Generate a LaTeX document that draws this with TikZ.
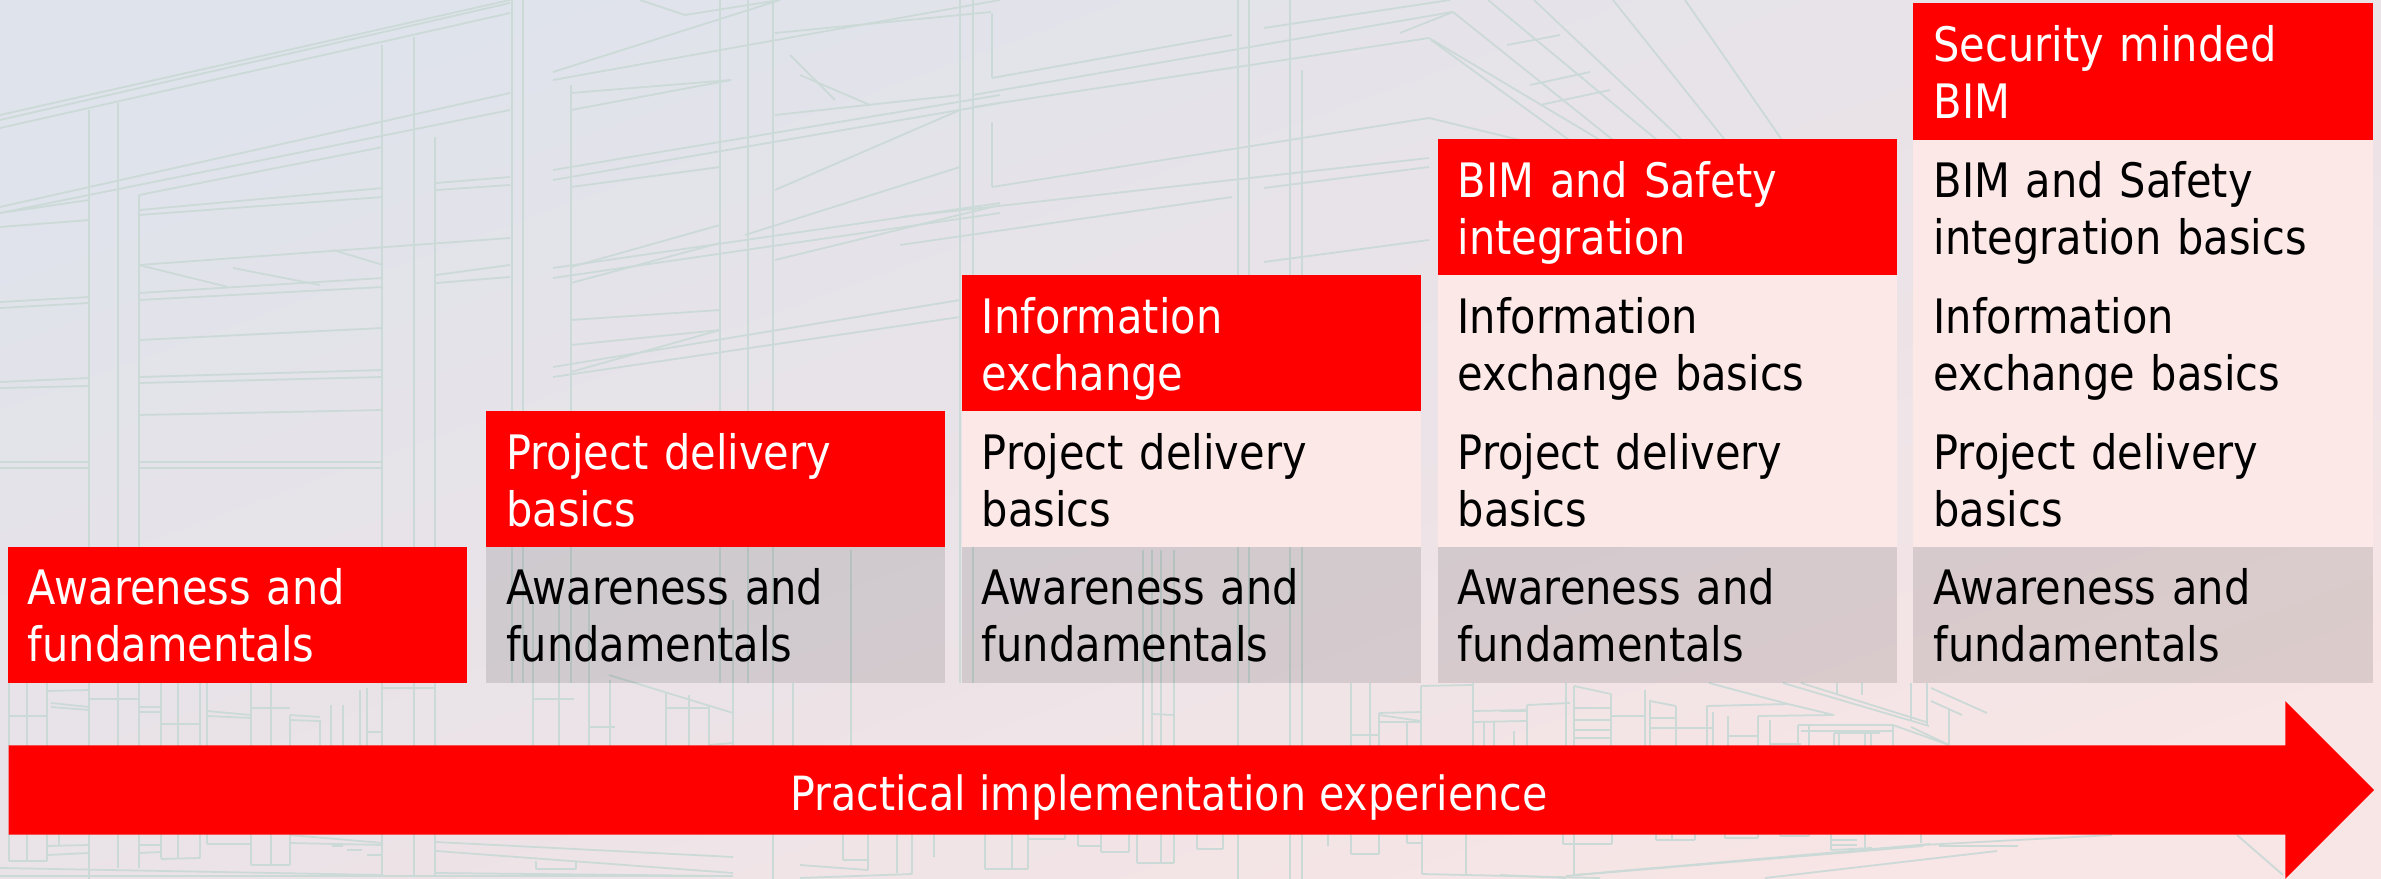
\documentclass[tikz,border=0pt]{standalone}
\usepackage{fontspec}
\setmainfont[FakeStretch=0.875]{DejaVu Sans}
\usepackage{xcolor}
\usepackage{tikz}
\usetikzlibrary{shapes,arrows}
\definecolor{bimRed}{HTML}{FF0000}
\definecolor{bimPale}{HTML}{FCE8E7}
\definecolor{bimFrame}{HTML}{CBD9D7}
\definecolor{bimCorner}{HTML}{DFE3EB}
\definecolor{bimMiddle}{HTML}{EAE3E8}
\definecolor{bimFar}{HTML}{F8E5E5}
\tikzstyle{block} = [rectangle, inner sep=0pt, text width=4.19cm, align=left,
    minimum height=1.358cm, minimum width=4.59cm, text height=0.58cm, text depth=0.78cm,
    font=\fontsize{13.5}{16.2}\selectfont]
\tikzstyle{redblock} = [block, fill=bimRed, text=white]
\tikzstyle{paleblock} = [block, fill=bimPale, text=black]
\tikzstyle{greyblock} = [block, fill=black, fill opacity=0.11, text opacity=1, text=black]
\tikzstyle{bigarrow} = [single arrow, fill=bimRed, text=white, inner sep=0pt,
    text height=0.64cm, text depth=0.24cm,
    minimum height=23.64cm, minimum width=1.76cm, single arrow head extend=0.44cm,
    font=\fontsize{13.4}{16.2}\selectfont]
\tikzstyle{frame} = [draw=bimFrame, line width=0.5pt]

\begin{document}
\begin{tikzpicture}[x=0.01cm, y=-0.01cm, node distance=4.755cm]
    \useasboundingbox (0,0) rectangle (2381,879);
    \shade [top color=bimCorner, bottom color=bimFar, middle color=bimMiddle, shading angle=20] (0,0) rectangle (2381,879);
    % Columns of the building
    \foreach \x/\ya/\yb in {89/110/879, 118/103/868, 139/195/868, 382/45/875, 414/37/875, 435/137/875,
        512/0/683, 523/0/683, 571/85/683, 720/0/683, 748/0/683, 773/0/879, 960/0/683, 973/0/683,
        1238/0/879, 1249/0/683, 1290/0/879, 1302/70/879,
        9/683/746, 27/683/746, 47/683/746, 161/683/746, 178/683/746, 200/683/746, 207/683/746, 251/683/746,
        271/683/746, 290/715/746, 320/720/746, 331/705/746, 343/705/746, 360/690/746, 367/688/746,
        533/600/746, 559/600/746, 589/600/746, 610/680/746, 666/693/746, 689/695/746, 709/705/746, 733/600/746, 793/683/746,
        851/550/746, 1143/550/746, 1152/550/746, 1161/550/746, 1174/550/746, 1351/683/746, 1370/683/746, 1379/713/746,
        1407/721/746, 1421/686/746, 1473/683/746, 1484/722/746, 1494/722/746, 1514/731/746, 1527/705/746,
        1566/683/746, 1574/686/746, 1611/694/746, 1645/690/746, 1650/700/746, 1676/706/746, 1707/706/746, 1713/712/746,
        1728/716/746, 1758/716/746, 1770/720/746, 1798/725/746, 1809/725/746, 1834/733/746, 1839/733/746, 1865/733/746,
        1871/733/746, 1893/725/746, 1911/683/720, 1927/683/726, 1949/710/745,
        9/834/861, 27/834/861, 47/834/861, 59/834/846, 161/834/858, 178/834/858, 200/834/858, 207/834/844, 251/834/865,
        271/834/865, 290/834/865, 843/834/860, 868/834/870, 897/834/873, 912/834/874, 934/834/857, 985/834/869,
        1012/834/869, 1028/834/869, 1065/834/839, 1078/834/846, 1101/834/852, 1129/834/852, 1137/834/863, 1161/834/863,
        1174/834/863, 1197/834/849, 1223/834/849, 1328/834/846, 1351/834/854, 1379/834/854, 1407/834/843, 1422/834/874,
        1466/834/876, 1563/834/844, 1574/834/875, 1612/834/844, 1656/834/840, 1672/834/840, 1695/834/840, 1725/834/838,
        1758/834/838, 1780/834/836, 1809/834/836, 1831/834/850, 1865/834/848, 1921/834/843}
        \draw [frame] (\x,\ya) -- (\x,\yb);
    % Beams and slabs
    \foreach \xa/\ya/\xb/\yb in {0/115/510/0, 0/120/510/3, 0/128/510/13, 0/207/510/93, 0/213/510/110,
        139/195/383/147, 139/210/383/188, 139/215/383/197, 436/183/510/177, 436/190/510/185,
        139/265/510/238, 139/293/383/278, 139/300/383/287, 436/275/510/265, 436/283/510/277,
        139/340/383/328, 139/377/383/370, 139/383/383/377, 139/415/383/410, 139/462/383/462, 139/468/383/468,
        0/302/89/297, 0/308/89/303, 0/382/89/378, 0/388/89/386, 0/462/89/462, 0/468/89/468,
        0/213/89/200, 0/227/89/220, 139/265/228/287, 233/268/320/285, 333/250/383/265,
        553/80/1000/0, 553/72/780/0, 553/170/1000/95, 553/180/1000/103, 553/268/1000/203, 553/278/1000/213,
        553/367/960/300, 553/377/960/317, 571/93/731/80, 571/110/731/80, 571/187/720/167, 571/267/720/225,
        571/283/720/243, 571/372/720/330, 571/320/720/310, 571/345/720/330,
        775/33/991/12, 775/115/960/95, 775/190/960/110, 745/235/960/167, 775/260/1000/205,
        973/95/1452/12, 973/107/1429/38, 992/78/1232/35, 992/187/1429/118, 900/217/1429/158, 900/245/1232/197,
        1264/262/1429/240, 1264/188/1429/167, 1264/28/1450/0, 992/13/992/78, 992/122/992/187,
        1400/33/1453/12, 1453/12/1613/140, 1431/40/1569/140, 1429/38/1600/140, 1488/0/1657/140, 1534/0/1682/140,
        1613/0/1725/140, 1685/0/1782/140, 1429/118/1520/140, 1507/45/1560/35, 1530/85/1590/72, 1540/105/1610/90,
        640/0/685/15, 685/15/780/0, 790/55/835/100, 800/75/870/105}
        \draw [frame] (\xa,\ya) -- (\xb,\yb);
    % Lower floors seen under the blocks
    \foreach \xa/\ya/\xb/\yb in {9/716/47/716, 47/691/89/690, 51/703/89/707, 51/707/89/710, 89/699/139/699, 139/707/161/707,
        139/712/161/712, 161/724/200/724, 207/711/251/715, 207/716/251/718, 251/708/290/708, 290/715/320/717, 290/720/320/721,
        383/688/436/688, 367/732/383/732, 533/699/574/699, 589/727/615/727, 609/675/733/713, 666/708/709/708, 709/745/733/743,
        1152/714/1174/715, 1351/735/1379/735, 1379/715/1421/721, 1379/722/1421/722, 1379/713/1421/712, 1421/686/1473/685,
        1473/711/1527/710, 1473/722/1527/721, 1527/705/1570/703, 1500/711/1528/711, 1574/686/1611/694, 1574/708/1611/708,
        1574/720/1611/720, 1574/730/1611/730, 1574/738/1611/738, 1611/716/1645/716, 1650/701/1676/706, 1650/718/1676/718,
        1650/728/1712/728, 1709/683/1788/704, 1707/706/1788/704, 1788/704/1834/715, 1758/716/1834/715, 1728/736/1758/736,
        1783/683/1929/726, 1801/683/1926/722, 1931/688/1987/713, 1931/701/1962/715, 1893/725/1949/745, 1911/727/1949/745,
        1798/725/1893/725, 1801/731/1893/731, 1770/744/1801/744, 1834/733/1880/733, 1837/683/1837/695, 1862/683/1862/695,
        9/861/47/861, 47/846/89/845, 47/855/89/853, 139/845/161/845, 139/853/161/852, 161/859/200/858, 207/844/251/844,
        251/865/290/865, 290/843/383/845, 290/835/383/843, 332/846/343/846, 347/850/362/850, 367/855/383/855,
        436/842/733/857, 436/851/733/873, 536/861/536/869, 536/869/576/869, 576/861/576/869, 0/868/383/875, 0/876/733/876,
        436/873/733/876, 843/860/868/860, 800/865/868/870, 800/878/912/874, 985/869/1028/869, 1028/839/1065/839,
        1078/846/1101/846, 1101/852/1129/852, 1137/863/1174/863, 1197/849/1223/849, 1351/854/1379/854, 1407/843/1421/843,
        1422/874/1600/878, 1563/844/1612/844, 1656/840/1695/840, 1725/838/1758/838, 1780/836/1809/836, 1831/840/1857/840,
        1831/845/1857/845, 1831/850/1872/848, 1566/876/1923/846, 1574/875/1930/844, 1765/878/1997/851, 1923/845/2112/835,
        1939/846/2018/846, 2237/835/2283/875, 1500/875/1566/878}
        \draw [frame] (\xa,\ya) -- (\xb,\yb);
%
    % Place nodes
    \node [redblock] at (237.5,615) (awarenessA) {Awareness and\\fundamentals};
    \node [greyblock, right of=awarenessA, node distance=4.78cm] (awarenessB) {Awareness and\\fundamentals};
    \node [greyblock, right of=awarenessB] (awarenessC) {Awareness and\\fundamentals};
    \node [greyblock, right of=awarenessC] (awarenessD) {Awareness and\\fundamentals};
    \node [greyblock, right of=awarenessD] (awarenessE) {Awareness and\\fundamentals};
%
    \node [redblock, above of=awarenessB, node distance=1.358cm] (deliveryB) {Project delivery\\basics};
    \node [paleblock, right of=deliveryB] (deliveryC) {Project delivery\\basics};
    \node [paleblock, right of=deliveryC] (deliveryD) {Project delivery\\basics};
    \node [paleblock, right of=deliveryD] (deliveryE) {Project delivery\\basics};
%
    \node [redblock, above of=deliveryC, node distance=1.358cm] (exchangeC) {Information\\exchange};
    \node [paleblock, right of=exchangeC] (exchangeD) {Information\\exchange basics};
    \node [paleblock, right of=exchangeD] (exchangeE) {Information\\exchange basics};
%
    \node [redblock, above of=exchangeD, node distance=1.358cm] (safetyD) {BIM and Safety\\integration};
    \node [paleblock, right of=safetyD] (safetyE) {BIM and Safety\\integration basics};
%
    \node [redblock, above of=safetyE, node distance=1.358cm] (securityE) {Security minded\\BIM};
%
    \node [bigarrow, anchor=tail] at (8,790) (practical) {Practical implementation experience};
\end{tikzpicture}
\end{document}
